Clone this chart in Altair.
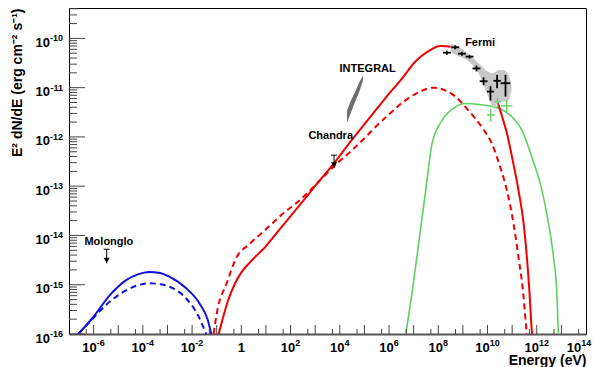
import altair as alt
import pandas as pd

# ---------------- data (log10 E [eV], log10 E^2 dN/dE [erg cm^-2 s^-1]) ----------------
blue_solid_logE = [-6.62, -6.02, -5.34, -4.66, -4.2, -3.75, -3.3, -2.91, -2.24, -1.70, -1.36, -1.22]
blue_solid_logF = [-16.0, -15.66, -15.21, -14.90, -14.79, -14.74, -14.76, -14.84, -15.07, -15.38, -15.72, -16.0]

blue_dash_logE = [-6.62, -6.02, -5.34, -4.66, -4.2, -3.75, -3.3, -2.91, -2.24, -1.77, -1.43]
blue_dash_logF = [-16.0, -15.68, -15.34, -15.11, -15.01, -14.97, -14.99, -15.04, -15.28, -15.61, -16.0]

red_solid_logE = [-0.92, -0.74, -0.54, -0.27, 0.0, 0.34, 1.01, 1.68, 2.36, 3.04, 3.77, 4.52, 5.2, 5.87,
                  6.5, 7.07, 7.6, 8.08, 8.55, 8.82, 9.2, 9.6, 10.0, 10.37, 10.6, 10.8, 11.0, 11.26,
                  11.47, 11.6, 11.7, 11.78, 11.81]
red_solid_logF = [-16.0, -15.66, -15.32, -14.99, -14.75, -14.55, -14.21, -13.80, -13.39, -12.97, -12.53,
                  -12.04, -11.62, -11.20, -10.83, -10.47, -10.26, -10.155, -10.17, -10.24, -10.40, -10.62,
                  -10.90, -11.25, -11.60, -11.95, -12.42, -13.09, -13.77, -14.45, -15.12, -15.80, -16.0]

red_dash_logE = [-1.13, -0.95, -0.61, -0.2, 0.34, 1.01, 1.68, 2.36, 3.04, 3.71, 4.52, 5.87, 6.95, 7.82,
                 8.3, 8.56, 9.24, 9.78, 10.18, 10.52, 10.79, 11.06, 11.26, 11.44, 11.56, 11.6]
red_dash_logF = [-16.0, -15.46, -14.99, -14.45, -14.17, -13.87, -13.56, -13.29, -12.96, -12.62, -12.26,
                 -11.60, -11.16, -11.0, -11.06, -11.13, -11.47, -11.81, -12.14, -12.62, -13.09, -13.77,
                 -14.45, -15.12, -15.80, -16.0]

green_logE = [6.68, 6.95, 7.22, 7.49, 7.75, 8.16, 8.70, 9.11, 9.64, 10.45, 10.99, 11.40, 11.80, 12.21,
              12.48, 12.68, 12.81, 12.88]
green_logF = [-16.0, -15.11, -14.10, -13.08, -12.13, -11.66, -11.39, -11.32, -11.34, -11.42, -11.59,
              -11.86, -12.41, -13.08, -13.76, -14.44, -15.11, -16.0]

# Fermi butterfly (upper / lower bounds)
fermi_band_logE = [8.50, 8.82, 9.23, 9.63, 10.04, 10.24, 10.44, 10.64, 10.85, 10.97]
fermi_band_hi = [-10.11, -10.17, -10.32, -10.50, -10.68, -10.70, -10.64, -10.64, -10.74, -10.95]
fermi_band_lo = [-10.28, -10.36, -10.46, -10.70, -11.19, -11.39, -11.31, -11.29, -11.25, -11.05]

# Fermi points
fermi_logE = [8.35, 8.69, 8.96, 9.27, 9.55, 9.84, 10.12, 10.39, 10.73]
fermi_logF = [-10.29, -10.18, -10.31, -10.37, -10.61, -10.87, -11.08, -10.86, -10.91]
fermi_dx = [0.16, 0.16, 0.16, 0.16, 0.16, 0.16, 0.14, 0.15, 0.20]
fermi_dy_hi = [0.04, 0.04, 0.04, 0.04, 0.06, 0.08, 0.11, 0.12, 0.17]
fermi_dy_lo = [0.04, 0.04, 0.04, 0.04, 0.06, 0.08, 0.18, 0.15, 0.27]

# green (TeV) points
tev_logE = [10.13, 10.41, 10.78]
tev_logF = [-11.555, -11.285, -11.37]
tev_dx = [0.16, 0.12, 0.23]
tev_dy_hi = [0.115, 0.085, 0.12]
tev_dy_lo = [0.135, 0.115, 0.15]

# INTEGRAL butterfly
integral_logE = [4.29, 4.45, 4.61, 4.78, 4.94]
integral_hi = [-11.47, -11.26, -11.10, -10.90, -10.76]
integral_lo = [-11.71, -11.51, -11.30, -11.10, -10.86]

# upper limits: Molonglo, Chandra
ul_names = ["Molonglo", "Chandra"]
ul_logE = [-5.47, 3.765]
ul_cap_logF = [-14.28, -12.37]
ul_tip_logF = [-14.565, -12.63]

# annotations
ann_text = ["Molonglo", "Chandra", "INTEGRAL", "Fermi"]
ann_logE = [-5.38, 3.63, 5.13, 9.70]
ann_logF = [-14.13, -11.98, -10.62, -10.09]

# tick labels (exponents of ten)
x_label_exps = [-6, -4, -2, 0, 2, 4, 6, 8, 10, 12, 14]
y_label_exps = [-16, -15, -14, -13, -12, -11, -10]

# ---------------- helpers ----------------
def p(v):
    return 10.0 ** v

W, H = 517, 326
YTOP = -9.383
xs = alt.Scale(type="log", domain=[1e-7, 1e14], nice=False)
ys = alt.Scale(type="log", domain=[1e-16, p(YTOP)], nice=False)
FONT = "Liberation Sans"

x_axis = alt.Axis(values=[p(n) for n in x_label_exps], labels=False,
                  ticks=False, grid=False, domainColor="#555555", domainWidth=2,
                  title="Energy (eV)", titleFont=FONT, titleFontWeight="bold", titleFontSize=14,
                  titleColor="black", titleAlign="right", titleX=W,
                  titleY=30, titleBaseline="alphabetic")
y_axis = alt.Axis(values=[p(n) for n in y_label_exps], labels=False,
                  ticks=False, grid=False, domainColor="black", domainWidth=1,
                  title="E\u00b2 dN/dE (erg cm\u207b\u00b2 s\u207b\u00b9)", titleFont=FONT,
                  titleFontWeight="bold", titleFontSize=14, titleColor="black",
                  titleAngle=270, titleX=-59, titleY=0, titleAlign="right", titleBaseline="top")

def X(f="E"):
    return alt.X(f"{f}:Q", scale=xs, axis=x_axis)

def Y(f="F"):
    return alt.Y(f"{f}:Q", scale=ys, axis=y_axis)

def curve_df(le, lf):
    return pd.DataFrame({"E": [p(v) for v in le], "F": [p(v) for v in lf]})

# ---------------- ticks (drawn inside the frame) ----------------
y_major = pd.DataFrame({"v": [p(n) for n in range(-16, -9)]})
y_minor = pd.DataFrame({"v": [k * p(n) for n in range(-16, -9) for k in range(2, 10) if k * p(n) < p(YTOP)]})
x_major = pd.DataFrame({"v": [p(n) for n in range(-6, 14)]})
x_minor = pd.DataFrame({"v": [5 * p(n) for n in range(-7, 14)]})

tick_col = "#444444"
ticks = [
    alt.Chart(y_major).mark_rule(color=tick_col, strokeWidth=1).encode(
        y=Y("v"), x=alt.value(0), x2=alt.value(16)),
    alt.Chart(y_minor).mark_rule(color=tick_col, strokeWidth=1).encode(
        y=Y("v"), x=alt.value(0), x2=alt.value(8)),
    alt.Chart(x_major).mark_rule(color=tick_col, strokeWidth=1).encode(
        x=X("v"), y=alt.value(H), y2=alt.value(H - 9)),
    alt.Chart(x_minor).mark_rule(color=tick_col, strokeWidth=1).encode(
        x=X("v"), y=alt.value(H), y2=alt.value(H - 5)),
]

# ---------------- tick labels: "10" plus raised exponent ----------------
BASE_FS, EXP_FS = 13, 9
W10 = 2 * 0.556 * BASE_FS
LAST_SHIFT = -7  # the last label is pulled inward, as in the original

def exp_width(s):
    return sum(0.333 * EXP_FS if c == "-" else 0.556 * EXP_FS for c in s)

label_layers = []
x_rows = []
for n in x_label_exps:
    if n == 0:
        continue
    s = str(n)
    d = (W10 - exp_width(s)) / 2 + (LAST_SHIFT if n == x_label_exps[-1] else 0)
    x_rows.append({"v": p(n), "base": "10", "exp": s, "dx": round(d, 1)})
x_lab = pd.DataFrame(x_rows)
for dxv in sorted(x_lab["dx"].unique()):
    sub = x_lab[x_lab["dx"] == dxv]
    label_layers.append(alt.Chart(sub).mark_text(
        font=FONT, fontWeight="bold", fontSize=BASE_FS, color="black", align="right",
        baseline="alphabetic", dx=float(dxv)).encode(x=X("v"), y=alt.value(H + 18), text="base:N"))
    label_layers.append(alt.Chart(sub).mark_text(
        font=FONT, fontWeight="bold", fontSize=EXP_FS, color="black", align="left",
        baseline="alphabetic", dx=float(dxv)).encode(x=X("v"), y=alt.value(H + 11.5), text="exp:N"))
one_lab = pd.DataFrame({"v": [p(0)], "base": ["1"]})
label_layers.append(alt.Chart(one_lab).mark_text(
    font=FONT, fontWeight="bold", fontSize=BASE_FS, color="black", align="center",
    baseline="alphabetic").encode(x=X("v"), y=alt.value(H + 18), text="base:N"))

y_lab = pd.DataFrame({"v": [p(n) for n in y_label_exps], "base": ["10"] * len(y_label_exps),
                      "exp": [str(n) for n in y_label_exps]})
EXP_W_Y = exp_width("-10")
label_layers.append(alt.Chart(y_lab).mark_text(
    font=FONT, fontWeight="bold", fontSize=BASE_FS, color="black", align="right",
    baseline="alphabetic", dy=8.5).encode(y=Y("v"), x=alt.value(-6 - EXP_W_Y), text="base:N"))
label_layers.append(alt.Chart(y_lab).mark_text(
    font=FONT, fontWeight="bold", fontSize=EXP_FS, color="black", align="right",
    baseline="alphabetic", dy=3).encode(y=Y("v"), x=alt.value(-6), text="exp:N"))

# ---------------- curves ----------------
BLUE, RED, GREEN = "#1010d8", "#f00000", "#5fcf5f"

def line(df, color, width=2.0, dash=None):
    kw = dict(color=color, strokeWidth=width, clip=True, interpolate="monotone")
    if dash:
        kw["strokeDash"] = dash
    return alt.Chart(df).mark_line(**kw).encode(x=X(), y=Y(), order="E:Q")

curves = [
    line(curve_df(blue_solid_logE, blue_solid_logF), BLUE),
    line(curve_df(blue_dash_logE, blue_dash_logF), BLUE, dash=[6, 4]),
    line(curve_df(green_logE, green_logF), GREEN, width=1.6),
    line(curve_df(red_solid_logE, red_solid_logF), RED),
    line(curve_df(red_dash_logE, red_dash_logF), RED, dash=[6, 4]),
]

# ---------------- butterflies ----------------
band_df = pd.DataFrame({"E": [p(v) for v in fermi_band_logE],
                        "hi": [p(v) for v in fermi_band_hi], "lo": [p(v) for v in fermi_band_lo]})
band = alt.Chart(band_df).mark_area(color="#c8c8c8", opacity=1, interpolate="monotone").encode(
    x=X(), y=Y("hi"), y2="lo:Q")

integ_df = pd.DataFrame({"E": [p(v) for v in integral_logE],
                         "hi": [p(v) for v in integral_hi], "lo": [p(v) for v in integral_lo]})
integ = alt.Chart(integ_df).mark_area(color="#6e6e6e", opacity=1).encode(
    x=X(), y=Y("hi"), y2="lo:Q")

# ---------------- points with error bars ----------------
def err_layers(le, lf, dx, dyh, dyl, color, width):
    df = pd.DataFrame({
        "E": [p(v) for v in le], "F": [p(v) for v in lf],
        "Elo": [p(a - b) for a, b in zip(le, dx)], "Ehi": [p(a + b) for a, b in zip(le, dx)],
        "Flo": [p(a - b) for a, b in zip(lf, dyl)], "Fhi": [p(a + b) for a, b in zip(lf, dyh)],
    })
    h = alt.Chart(df).mark_rule(color=color, strokeWidth=width).encode(
        x=X("Elo"), x2="Ehi:Q", y=Y("F"))
    v = alt.Chart(df).mark_rule(color=color, strokeWidth=width).encode(
        x=X("E"), y=Y("Flo"), y2="Fhi:Q")
    return [h, v]

fermi_pts = err_layers(fermi_logE, fermi_logF, fermi_dx, fermi_dy_hi, fermi_dy_lo, "black", 1.8)
tev_pts = err_layers(tev_logE, tev_logF, tev_dx, tev_dy_hi, tev_dy_lo, GREEN, 1.4)

# ---------------- upper limits ----------------
ul_df = pd.DataFrame({"name": ul_names, "E": [p(v) for v in ul_logE],
                      "Elo": [p(v - 0.12) for v in ul_logE], "Ehi": [p(v + 0.12) for v in ul_logE],
                      "cap": [p(v) for v in ul_cap_logF], "tip": [p(v) for v in ul_tip_logF]})
ul = [
    alt.Chart(ul_df).mark_rule(color="black", strokeWidth=1).encode(x=X("E"), y=Y("cap"), y2="tip:Q"),
    alt.Chart(ul_df).mark_rule(color="black", strokeWidth=1).encode(x=X("Elo"), x2="Ehi:Q", y=Y("cap")),
    alt.Chart(ul_df).mark_point(shape="triangle-down", filled=True, color="black", size=38,
                                opacity=1, yOffset=-3).encode(x=X("E"), y=Y("tip")),
]

# ---------------- annotations ----------------
ann_df = pd.DataFrame({"t": ann_text, "E": [p(v) for v in ann_logE], "F": [p(v) for v in ann_logF]})
ann = alt.Chart(ann_df).mark_text(font=FONT, fontWeight="bold", fontSize=11, color="black",
                                  align="center", baseline="middle").encode(x=X(), y=Y(), text="t:N")

chart = alt.layer(*curves, *ticks, integ, band, *fermi_pts, *tev_pts, *ul, ann, *label_layers).properties(
    width=W, height=H,
    autosize=alt.AutoSizeParams(type="none"),
    padding={"left": 61, "top": 0, "right": 6, "bottom": 33},
    background="white",
).configure_view(stroke="black", strokeWidth=1)

chart.save("out.html", embed_options={"renderer": "svg", "actions": False})
